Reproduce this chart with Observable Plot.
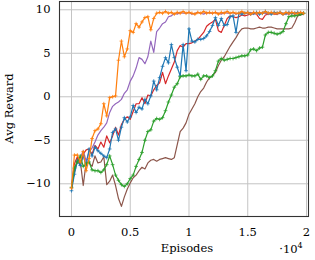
<!DOCTYPE html>
<html><head><meta charset="utf-8">
<script src="https://cdn.jsdelivr.net/npm/d3@7"></script>
<script src="https://cdn.jsdelivr.net/npm/@observablehq/plot@0.6"></script>
<style>body{margin:0;background:#fff} svg{display:block}</style>
</head><body><div id="chart"></div>
<script>
// sample positions (episodes), every 250
const episodes = d3.range(0, 20000, 250);

const xTicks = [0, 5000, 10000, 15000, 20000];
const xTickLabels = ["0", "0.5", "1", "1.5", "2"];
const yTicks = [-10, -5, 0, 5, 10];
const yTickLabels = ["\u221210", "\u22125", "0", "5", "10"];

const orange = [
 -10.5, -6.7, -6.7, -7.5, -6.3, -8.5, -7.1, -4.8, -3.9, -3.7,
 -3.1, -0.8, -2.2, -0.1, 0.0, 0.1, 4.2, 6.4, 4.6, 5.5,
 7.6, 7.4, 8.4, 8.0, 8.6, 9.1, 9.2, 7.7, 9.0, 9.6,
 9.7, 9.6, 9.8, 9.6, 9.7, 9.5, 9.7, 9.6, 9.8, 9.6,
 9.7, 9.6, 9.5, 9.7, 9.6, 9.8, 9.6, 9.7, 9.6, 9.7,
 9.5, 9.7, 9.6, 9.8, 9.6, 9.7, 9.6, 9.6, 9.8, 9.6,
 9.7, 9.5, 9.7, 9.6, 9.7, 9.6, 9.8, 9.6, 9.7, 9.6,
 9.6, 9.7, 9.5, 9.7, 9.6, 9.7, 9.6, 9.6, 9.7, 9.6
];
const purple = [
 -10.5, -8.5, -7.5, -7.0, -6.2, -7.4, -6.3, -5.9, -5.2, -4.4,
 -3.9, -3.5, -3.0, -1.8, -1.1, -0.8, -0.6, -0.3, 0.4, 0.8,
 1.8, 2.4, 3.3, 4.5, 4.3, 3.8, 4.6, 6.4, 5.1, 7.5,
 7.9, 8.4, 8.6, 9.2, 9.3, 9.6, 9.5, 9.7, 9.6, 9.6,
 9.7, 9.5, 9.6, 9.7, 9.6, 9.5, 9.7, 9.6, 9.6, 9.7,
 9.6, 9.5, 9.7, 9.6, 9.6, 9.7, 9.5, 9.6, 9.7, 9.6,
 9.6, 9.7, 9.5, 9.6, 9.7, 9.6, 9.6, 9.5, 9.7, 9.6,
 9.6, 9.7, 9.6, 9.5, 9.6, 9.7, 9.6, 9.6, 9.7, 9.6
];
const blue = [
 -10.8, -8.9, -7.4, -7.9, -6.8, -7.9, -6.0, -6.8, -5.8, -6.2,
 -6.5, -6.8, -7.0, -6.0, -4.1, -3.7, -5.0, -3.5, -2.4, -2.9,
 -2.3, -1.0, -1.8, -1.2, -1.4, -0.3, -0.8, 0.1, 1.8, 0.8,
 2.2, 3.5, 4.5, 3.9, 6.0, 4.5, 3.4, 2.4, 6.0, 3.0,
 7.8, 6.4, 6.3, 6.6, 6.6, 6.7, 7.0, 7.5, 8.2, 9.1,
 8.2, 9.0, 8.2, 8.3, 9.2, 9.3, 7.4, 9.6, 9.5, 9.6,
 9.7, 9.5, 9.6, 9.7, 9.5, 9.6, 9.8, 9.6, 9.5, 9.7,
 9.6, 9.7, 9.5, 9.6, 9.7, 9.6, 9.6, 9.7, 9.6, 9.6
];
const red = [
 -10.4, -7.7, -6.9, -7.9, -6.6, -6.1, -6.0, -6.6, -5.6, -6.0,
 -5.2, -5.8, -4.5, -5.3, -4.5, -3.5, -4.4, -3.2, -2.6, -2.3,
 -2.6, -1.7, -0.8, -0.8, -0.1, -0.8, 0.2, 0.1, 0.8, 1.3,
 1.6, 2.8, 1.5, 2.4, 3.2, 4.0, 5.3, 5.9, 5.7, 6.1,
 6.1, 6.2, 6.4, 6.6, 7.0, 7.4, 8.1, 8.4, 8.6, 8.9,
 7.6, 7.4, 8.2, 9.0, 9.3, 9.2, 9.1, 9.2, 9.4, 9.3,
 9.4, 9.5, 9.6, 9.5, 9.0, 8.9, 9.4, 9.5, 9.6, 9.5,
 9.5, 9.6, 9.5, 9.6, 9.5, 9.6, 9.5, 9.6, 9.5, 9.5
];
const green = [
 -10.4, -8.2, -7.5, -6.8, -8.0, -7.7, -7.5, -8.4, -8.5, -8.5,
 -8.7, -8.4, -7.8, -6.8, -7.8, -9.0, -9.6, -10.1, -10.3, -10.0,
 -9.4, -9.0, -8.0, -7.2, -6.4, -5.0, -4.0, -3.8, -2.8, -2.5,
 -2.6, -2.4, -1.6, -0.6, 0.2, 1.1, 1.5, 2.3, 2.4, 2.4,
 2.5, 2.4, 2.4, 2.6, 2.0, 2.4, 2.4, 2.2, 2.4, 3.0,
 4.1, 4.4, 4.2, 4.3, 4.4, 4.4, 4.5, 4.6, 4.7, 4.7,
 4.8, 5.4, 5.5, 5.3, 5.6, 5.7, 7.1, 7.4, 7.4, 7.3,
 7.2, 7.3, 7.5, 8.4, 9.2, 9.3, 9.3, 9.4, 9.5, 9.6
];
const brown = [
 -10.4, -8.6, -7.1, -7.4, -10.2, -7.5, -7.6, -8.0, -6.8, -7.6,
 -7.5, -6.9, -10.1, -9.7, -9.0, -10.2, -11.7, -12.6, -11.5, -10.6,
 -9.9, -9.3, -9.0, -8.5, -8.1, -8.3, -7.6, -7.3, -7.2, -7.4,
 -7.2, -7.1, -7.0, -7.1, -7.2, -7.0, -5.5, -4.0, -3.6, -3.0,
 -2.0, -1.4, -0.8, 0.0, 0.6, 1.0, 1.7, 2.2, 2.4, 2.8,
 3.6, 4.2, 4.6, 5.2, 5.8, 6.3, 6.8, 7.4, 7.8, 7.9,
 7.9, 7.8, 7.8, 7.9, 8.0, 7.9, 7.9, 8.0, 8.0, 7.9,
 7.8, 7.8, 7.8, 7.8, 7.8, 7.9, 8.5, 9.3, 9.4, 9.5
];

const series = [
  {vals: red, color: "#d62728", marks: false},
  {vals: purple, color: "#9467bd", marks: false},
  {vals: brown, color: "#8c564b", marks: false},
  {vals: blue, color: "#1f77b4", marks: true},
  {vals: green, color: "#2ca02c", marks: true},
  {vals: orange, color: "#ff7f0e", marks: true}
];

const seriesMarks = [];
for (const s of series) {
  seriesMarks.push(Plot.line(s.vals, {x: (d, i) => episodes[i], y: d => d, stroke: s.color, strokeWidth: 1.2}));
  if (s.marks) seriesMarks.push(Plot.dot(s.vals, {x: (d, i) => episodes[i], y: d => d, stroke: s.color, symbol: "plus", r: 1.3, strokeWidth: 0.8}));
}

const chart = Plot.plot({
  width: 315, height: 260,
  marginLeft: 59, marginRight: 7, marginTop: 1, marginBottom: 44,
  style: {fontFamily: "DejaVu Serif", fontSize: "11.5px", background: "#fff", color: "#000"},
  x: {domain: [-1020, 20170]},
  y: {domain: [-13.76, 10.95]},
  marks: [
    Plot.gridX(xTicks, {stroke: "#c4c4c4", strokeOpacity: 1, strokeWidth: 1}),
    Plot.gridY(yTicks, {stroke: "#c4c4c4", strokeOpacity: 1, strokeWidth: 1}),
    ...seriesMarks,
    Plot.frame({stroke: "#333", strokeWidth: 1.1}),
    Plot.axisX(xTicks, {tickSize: 0, tickPadding: 11, tickFormat: d => xTickLabels[xTicks.indexOf(d)], label: null, fontSize: 11.5}),
    Plot.axisY(yTicks, {tickSize: 0, tickPadding: 9, tickFormat: d => yTickLabels[yTicks.indexOf(d)], label: null, fontSize: 11.5})
  ]
});

const svg = d3.select(chart);
svg.append("text").attr("x", 187).attr("y", 252).attr("text-anchor", "middle")
  .attr("font-family", "DejaVu Serif").attr("font-size", 11.5).text("Episodes");
svg.append("text").attr("transform", "translate(13,108.5) rotate(-90)").attr("text-anchor", "middle")
  .attr("font-family", "DejaVu Serif").attr("font-size", 11.5).text("Avg Reward");
const e = svg.append("text").attr("x", 291).attr("y", 253)
  .attr("font-family", "DejaVu Serif").attr("font-size", 11.5);
e.append("tspan").text("\u00b710");
e.append("tspan").attr("dy", -5).attr("font-size", 8).text("4");

document.getElementById("chart").appendChild(chart);
</script>
</body></html>
